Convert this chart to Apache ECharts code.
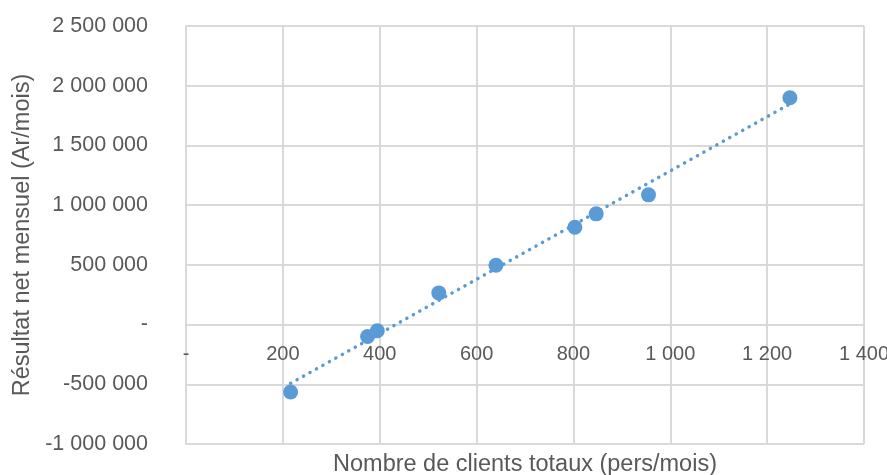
<!DOCTYPE html>
<html>
<head>
<meta charset="utf-8">
<script src="https://cdn.jsdelivr.net/npm/echarts@6/dist/echarts.min.js"></script>
<style>
  html, body { margin: 0; padding: 0; background: #fff; }
  #chart { width: 887px; height: 475px; }
</style>
</head>
<body>
<div id="chart"></div>
<script>
// nuage de points : clients totaux vs résultat net mensuel
var clients = [216, 375, 395, 522, 640, 803, 847, 955, 1247];
var resultat = [-564000, -100000, -52000, 265000, 497000, 815000, 927000, 1086000, 1899000];

var xTicks = [0, 200, 400, 600, 800, 1000, 1200, 1400];
var yTicks = [-1000000, -500000, 0, 500000, 1000000, 1500000, 2000000, 2500000];

// format "1 000 000", zéro -> "-"
function fmt(v) {
  if (v === 0) return '-';
  return String(v).replace(/\B(?=(\d{3})+(?!\d))/g, ' ');
}

// courbe de tendance linéaire (moindres carrés, comme Excel)
var n = clients.length, sx = 0, sy = 0, sxx = 0, sxy = 0;
for (var i = 0; i < n; i++) {
  sx += clients[i]; sy += resultat[i];
  sxx += clients[i] * clients[i]; sxy += clients[i] * resultat[i];
}
var pente = (n * sxy - sx * sy) / (n * sxx - sx * sx);
var origine = (sy - pente * sx) / n;
var xmin = Math.min.apply(null, clients), xmax = Math.max.apply(null, clients);
var tendance = [[xmin, origine + pente * xmin], [xmax, origine + pente * xmax]];

var points = clients.map(function (x, i) { return [x, resultat[i]]; });

var font = 'Liberation Sans';
var gris = '#595959';
var grille = '#d9d9d9';
var bleu = '#5b9bd5';

var W = 887, H = 475;
var g = { left: 186, right: 23, top: 26, bottom: 31 };
// l'axe des x croise à y = 0 (comme Excel) : décalage depuis le bas de la grille
var ymin = yTicks[0], ymax = yTicks[yTicks.length - 1];
var hauteur = H - g.top - g.bottom;
var decalage = -hauteur * (0 - ymin) / (ymax - ymin);

var myChart = echarts.init(document.getElementById('chart'));
myChart.setOption({
  animation: false,
  grid: { left: g.left, right: g.right, top: g.top, bottom: g.bottom, outerBoundsMode: 'none' },
  xAxis: {
    type: 'value',
    position: 'bottom',
    offset: decalage,
    min: xTicks[0], max: xTicks[xTicks.length - 1], interval: 200,
    name: 'Nombre de clients totaux (pers/mois)',
    nameLocation: 'middle', nameGap: 128,
    nameTextStyle: { color: gris, fontFamily: font, fontSize: 23.5 },
    axisLine: { onZero: false, lineStyle: { color: grille, width: 2 } },
    axisTick: { show: false },
    axisLabel: { color: gris, fontFamily: font, fontSize: 20, margin: 20, formatter: fmt },
    splitLine: { show: true, lineStyle: { color: grille, width: 2 } }
  },
  yAxis: {
    type: 'value',
    min: ymin, max: ymax, interval: 500000,
    name: 'Résultat net mensuel (Ar/mois)',
    nameLocation: 'middle', nameGap: 149,
    nameTextStyle: { color: gris, fontFamily: font, fontSize: 23.5 },
    axisLine: { show: true, onZero: false, lineStyle: { color: grille, width: 2 } },
    axisTick: { show: false },
    axisLabel: { color: gris, fontFamily: font, fontSize: 21.5, margin: 38, formatter: fmt },
    splitLine: { show: true, lineStyle: { color: grille, width: 2 } }
  },
  series: [
    {
      type: 'line',
      data: tendance,
      symbol: 'none',
      lineStyle: { color: bleu, width: 3.5, type: [0.1, 7.3], cap: 'round' },
      z: 2
    },
    {
      type: 'scatter',
      data: points,
      symbolSize: 15,
      itemStyle: { color: bleu, opacity: 1 },
      z: 3
    }
  ]
});
</script>
</body>
</html>
